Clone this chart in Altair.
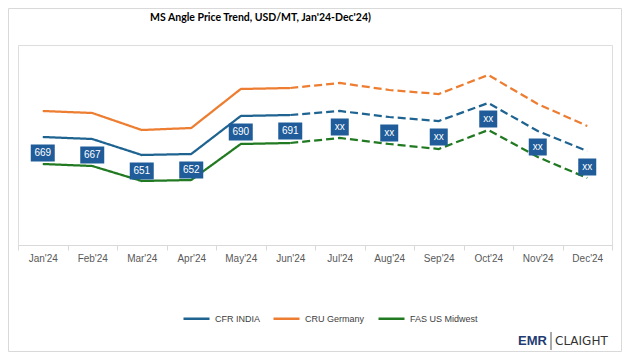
import altair as alt
import pandas as pd

months = ["Jan'24", "Feb'24", "Mar'24", "Apr'24", "May'24", "Jun'24",
          "Jul'24", "Aug'24", "Sep'24", "Oct'24", "Nov'24", "Dec'24"]
cfr_india = [669, 667, 651, 652, 690, 691, 695, 689, 685, 703, 675, 655]
cru_germany = [695, 693, 676, 678, 717, 718, 723, 716, 712, 731, 702, 680]
fas_us_midwest = [642, 640, 625, 626, 662, 663, 668, 662, 657, 676, 649, 628]
label_text = ["669", "667", "651", "652", "690", "691", "xx", "xx", "xx", "xx", "xx", "xx"]
series_names = ["CFR INDIA", "CRU Germany", "FAS US Midwest"]
colors = ["#1f6391", "#ed7d31", "#217a21"]
title_text = "MS Angle Price Trend, USD/MT, Jan'24-Dec'24)"

rows = []
for name, vals in zip(series_names, [cfr_india, cru_germany, fas_us_midwest]):
    for i, (m, v) in enumerate(zip(months, vals)):
        if i <= 5:
            rows.append(dict(series=name, month=m, value=v, seg="actual"))
        if i >= 5:
            rows.append(dict(series=name, month=m, value=v, seg="forecast"))
df = pd.DataFrame(rows)
lab = pd.DataFrame({"month": months, "value": cfr_india, "label": label_text})

x = alt.X("month:N", sort=months,
          scale=alt.Scale(type="band", paddingInner=0, paddingOuter=0),
          axis=alt.Axis(title=None, labelAngle=0, tickBand="extent",
                        domainColor="#d9d9d9", tickColor="#d9d9d9", tickSize=5,
                        labelFont="Liberation Sans", labelFontSize=10,
                        labelColor="#595959", labelPadding=3, grid=False))
y = alt.Y("value:Q", scale=alt.Scale(domain=[561, 761], nice=False, zero=False), axis=None)

lines = alt.Chart(df).mark_line(strokeWidth=2.25).encode(
    x=x, y=y,
    color=alt.Color("series:N", scale=alt.Scale(domain=series_names, range=colors),
                    legend=alt.Legend(title=None, orient="none", legendX=164, legendY=259,
                                      direction="horizontal", symbolType="stroke",
                                      symbolStrokeWidth=2.5, symbolSize=676,
                                      labelFont="Liberation Sans", labelFontSize=9,
                                      labelColor="#404040", columnPadding=8, labelOffset=4)),
    strokeDash=alt.StrokeDash("seg:N", scale=alt.Scale(domain=["actual", "forecast"],
                                                       range=[[1, 0], [8, 4]]), legend=None),
)

num_boxes = alt.Chart(lab).transform_filter(alt.datum.label != "xx").mark_rect(
    width=24, height=17, yOffset=16, color="#1f5c99").encode(x=x, y=y)
xx_boxes = alt.Chart(lab).transform_filter(alt.datum.label == "xx").mark_rect(
    width=18, height=17, yOffset=16, color="#1f5c99").encode(x=x, y=y)
texts = alt.Chart(lab).mark_text(dy=16, color="white", font="Liberation Sans", fontSize=10).encode(
    x=x, y=y, text="label:N")

one = pd.DataFrame({"a": [0]})
border = alt.Chart(one).mark_rect(fill=None, stroke="#d9d9d9", strokeWidth=1).encode(
    x=alt.value(-9.5), x2=alt.value(603.5), y=alt.value(-36.5), y2=alt.value(306.5))
title = alt.Chart(one).mark_text(text=title_text, font="Lato", fontWeight="bold",
                                 fontSize=10.5, color="#000000", align="center",
                                 baseline="middle").encode(
    x=alt.value(242.5), y=alt.value(-27))
logo_emr = alt.Chart(one).mark_text(text="EMR", font="Liberation Sans", fontWeight="bold",
                                    fontSize=13, color="#1f3b73", align="left",
                                    baseline="middle").encode(
    x=alt.value(500), y=alt.value(296))
logo_sep = alt.Chart(one).mark_rule(color="#555555", strokeWidth=1).encode(
    x=alt.value(533), y=alt.value(287), y2=alt.value(305))
logo_cl = alt.Chart(one).mark_text(text="CLAIGHT", font="DejaVu Sans", fontSize=12,
                                   color="#333333", align="left", baseline="middle").encode(
    x=alt.value(537), y=alt.value(296))

chart = alt.layer(border, title, lines, num_boxes, xx_boxes, texts, logo_emr, logo_sep, logo_cl).properties(
    width=594, height=200,
    padding={"left": 10, "top": 37, "right": 10, "bottom": 107},
    autosize=alt.AutoSizeParams(type="none"),
).configure_view(stroke=None).configure(background="white")

chart.save("out.html", embed_options={"renderer": "svg", "actions": False})
